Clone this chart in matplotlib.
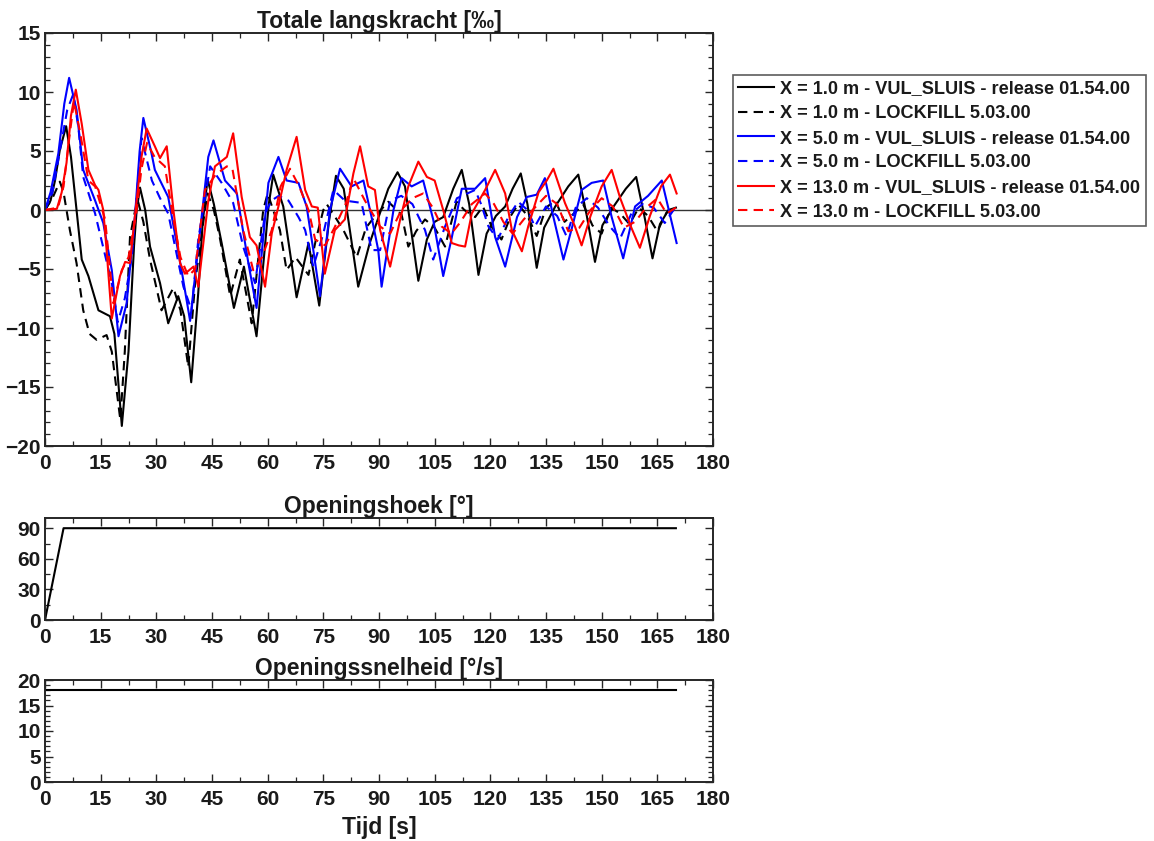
import matplotlib
matplotlib.use("Agg")
import matplotlib.pyplot as plt
from matplotlib.ticker import MultipleLocator

plt.rcParams['font.family'] = ['Liberation Sans', 'DejaVu Sans']
plt.rcParams['font.weight'] = 'bold'

# ---------------- data ----------------
t_k1 = [0, 1.5, 2.7, 4.0, 5.7, 7.0, 8.5, 9.9, 11.7, 14.4, 17.5, 18.7, 20.7, 22.5, 24.0, 24.7, 25.6, 27, 28.3,
        31.0, 33.2, 35.9, 37.5, 39.4, 41.3, 42.5, 43.8, 45.5, 47.6, 50.9, 53.6, 57.0, 59.0, 60.3, 61.5, 64.2,
        67.8, 71.0, 73.9, 76.5, 78.4, 80.5, 84.4, 87.5, 90.0, 92.5, 95.0, 97.0, 100.6, 102.9, 105.0, 107.3,
        110.0, 112.3, 114.3, 116.8, 119.0, 121.5, 124.0, 126.0, 128.2, 130.0, 132.5, 134.5, 137.5, 141.0,
        143.7, 146.0, 148.2, 150.2, 153.0, 156.5, 159.3, 161.5, 163.7, 165.7, 168.0, 170.0]
v_k1 = [0, 0.8, 2.5, 5.1, 7.1, 4.5, 0, -4.2, -5.6, -8.5, -9.0, -10.5, -18.3, -12, -3, 0, 1.9, 0, -3.1,
        -6.2, -9.6, -7.3, -9, -14.6, -7, -1, 2.6, 0.5, -2.8, -8.3, -4.8, -10.7, -4, 0.5, 3.0, 0.3,
        -7.4, -2.8, -8.1, -1, 2.9, 1.8, -6.5, -2.8, -0.5, 1.8, 3.2, 2.0, -6.0, -2.5, -1.0, -0.6,
        1.8, 3.4, 0.5, -5.5, -2.0, -0.5, 0.3, 1.8, 3.1, 0.5, -4.9, -1.5, 0.3, 2.0,
        3.0, -0.5, -4.4, -1.3, 0.2, 1.8, 2.8, -0.5, -4.1, -1.2, 0.0, 0.2]

t_k2 = [0, 2.0, 4.0, 5.0, 6.7, 8.5, 10.3, 12.0, 13.9, 16.6, 18.0, 20.3, 21.5, 22.9, 24.3, 25.0, 26.5, 28.3,
        31.4, 34.6, 36.5, 38.6, 40.5, 43.1, 43.8, 45.5, 47.2, 49.9, 52.5, 55.7, 57.5, 58.8, 60.0, 63.3, 65.1,
        67.5, 71.0, 73.0, 75.0, 75.9, 78.0, 80.4, 84.0, 86.5, 89.0, 92.5, 96.1, 97.9, 100.0, 102.4, 105.0,
        107.8, 110.9, 113.0, 115.9, 118.0, 120.5, 123.0, 125.5, 127.5, 130, 132.5, 135, 137.5, 140, 142.5,
        145, 147.5, 150, 152.5, 155, 157.5, 160, 162.5, 165, 167.5, 170]
v_k2 = [0, 1.0, 2.4, 1.5, -1.7, -4.5, -8.5, -10.5, -11.0, -10.6, -12, -17.8, -12, -2.3, 0, 0.8, -1, -4.2,
        -8.5, -6.6, -8.5, -13.3, -6, 0, 1.4, 0, -2.5, -7.3, -4.2, -9.6, -4, 0, 1.4, -1.7, -5.1,
        -4.0, -5.5, -2.5, 0, 0.5, -0.5, -1.7, -4.0, -1.5, -0.5, 0.7, -0.4, -3.1, -1.8, -0.8, -1.5,
        -3.1, 0.7, 0.0, -0.6, 0.3, -1.5, -2.5, -0.5, 0.5, -0.5, -2.2, 0.2, 0.8, -1.0, -0.3,
        0.5, -1.3, -2.0, 0.2, -0.3, -1.2, 0.2, -0.5, -1.8, -0.2, 0.0]

t_b1 = [0, 1.5, 3.6, 5.2, 6.5, 8.5, 10.3, 13.5, 15.7, 18.0, 19.8, 22.0, 24.3, 25.5, 26.5, 28.7, 29.6, 33.2,
        36.8, 39.1, 42.2, 44.0, 45.4, 48.5, 51.7, 54.8, 57.0, 60.2, 62.9, 65.1, 68.3, 70.5, 72.3, 74.1,
        76.8, 79.5, 82.6, 85.8, 88.0, 89.8, 90.7, 93.9, 96.1, 98.8, 101.9, 104.6, 107.3, 109.5, 112.3,
        115.9, 118.6, 121.3, 124.0, 127.2, 129.8, 132.5, 134.7, 137.0, 139.7, 142.0, 144.6, 147.3, 150.4,
        152.7, 155.8, 159.0, 162.5, 166.2, 170.2]
v_b1 = [0, 1.5, 4.8, 9, 11.2, 8.5, 3.4, 0.8, -1.1, -5.1, -10.7, -7.9, -0.3, 5, 7.8, 4.8, 3.4, 1.1,
        -5.1, -9.4, -0.6, 4.5, 5.9, 2.5, 1.4, -4.5, -8.3, 2.3, 4.5, 2.5, 2.3, 0.3, -3.4, -7.3,
        0, 3.5, 2.0, 2.5, -0.6, -3.4, -6.5, 0, 2.7, 2.0, 2.5, -0.8, -5.6, -2.5, 1.8,
        1.8, 2.7, -2.3, -4.8, -0.6, 1.1, 1.3, 2.7, -0.6, -4.2, -1.5, 1.7, 2.3, 2.5,
        -0.6, -4.1, 0.3, 1.2, 2.5, -2.8]

t_b2 = [0, 2, 4, 6, 7.6, 9, 10.3, 13.5, 18.0, 19.6, 21.5, 23.4, 24.8, 26.0, 28.8, 31.0, 33.2, 37.3, 39.5,
        41.3, 44.5, 47.6, 50.7, 53.4, 56.6, 59.3, 61.0, 63.0, 65.6, 68.3, 70.1, 72.3, 75.0, 77.7, 80.8,
        85.3, 88.0, 90.3, 93.0, 96, 99, 102.4, 104.6, 107.8, 111, 115.9, 117.5, 119.5, 122, 125, 127.5,
        130, 132, 135, 138, 140.5, 143, 146, 149, 152.2, 155, 158, 161, 164, 167, 170]
v_b2 = [0, 1.5, 5, 8.5, 9.8, 7, 2.8, -0.3, -6.2, -9.5, -7.5, -4, 1.5, 6.1, 2.5, 1.0, -0.3, -6.5, -8.5,
        -2.5, 3.7, 2.3, 0.6, -3.1, -6.2, -0.3, 0.8, 1.2, 0.8, -0.6, -1.7, -4.8, -2.0, 1.7, 0.8,
        0.6, -3.4, -3.4, 0.8, 1.2, 0.5, -1.7, -4.2, -1.4, 1.0, 1.7, 0.5, -1.4, -2.5, -0.5, 0.7,
        0.0, -1.4, 0.3, -0.5, -2.2, 0.2, 1.0, 0.2, -1.4, -2.4, -0.3, 0.5, 0.2, -1.1, 0.3]

t_r1 = [0, 3.2, 4.5, 5.8, 7.0, 8.3, 9.9, 11.7, 13.5, 14.4, 15.7, 16.6, 18.0, 20.2, 21.6, 22.9, 24.3, 26.0,
        27.4, 29.6, 31.0, 32.8, 34.6, 36.4, 37.7, 40.0, 41.3, 44.0, 45.8, 49.0, 50.7, 53.0, 55.2, 57,
        59.3, 61.1, 62.9, 65.1, 67.8, 70.1, 71.9, 73.5, 75.4, 78.1, 80.8, 83.1, 84.9, 87.1, 88.9, 90.3,
        93.0, 95.7, 97.9, 100.6, 102.9, 105, 107.3, 109.6, 111.5, 113.2, 115.0, 118.6, 121.3, 124.0,
        125.8, 128.5, 130.2, 133, 135.2, 137.0, 140.1, 142.8, 144.6, 147, 150, 152.7, 155, 158, 160.3,
        163, 166, 168.4, 170.2]
v_r1 = [0, 0.1, 1.5, 4, 8, 10.2, 7.3, 3.4, 2.1, 1.7, 0, -3.4, -9.2, -5.6, -4.4, -4.5, -0.3, 4.5,
        6.9, 5.4, 4.4, 5.4, 0, -4.5, -5.4, -4.8, -6.5, 0.8, 3.7, 4.5, 6.5, 1.1, -2.3, -3,
        -6.5, -2.0, 0.3, 3.4, 6.2, 1.7, 0.3, 0.2, -5.4, -1.7, -0.8, 3.1, 5.4, 2.0, 1.7, -1.7,
        -4.8, -0.8, 2.0, 4.1, 2.8, 2.5, 0, -2.8, -3.0, -3.1, -0.3, 1.7, 3.4, 1.4,
        -1.7, -3.5, -1.4, 1.5, 2.5, 3.5, 0.6, -1.4, -3.0, -0.5, 2.0, 3.4, 1.0, -1.5, -3.2,
        -0.5, 2.0, 3.0, 1.4]

t_r2 = [0, 3.5, 5, 6.5, 7.8, 9.5, 11.7, 13.5, 16.2, 18.4, 20.7, 22.5, 24.5, 26, 27.5, 29.5, 32.3, 34.6,
        36.5, 38.6, 40.5, 43.1, 46, 49.0, 50.5, 52.1, 53.4, 56.1, 58.5, 61.1, 63.5, 66.0, 68.5, 71.0,
        72.8, 75.5, 78, 81, 83.1, 86.2, 90.3, 93, 96, 99, 101.9, 104.5, 106.9, 109.5, 112, 115, 118.6,
        121, 123.5, 126, 129, 132, 135, 138, 141, 144, 147, 150, 153, 156, 159, 162, 165, 167.5, 170]
v_r2 = [0, 0.2, 2, 6, 9.2, 6.5, 2.5, 2.0, -0.8, -7.9, -5.1, -4.0, -0.5, 3.5, 5.7, 4.5, 3.7, -0.8,
        -4, -5.6, -5.0, 1.7, 3.0, 3.7, 3.5, 0.6, -1.7, -5.1, -4.0, -1.7, 2.0, 3.5, 2.0, 0.0,
        -2.5, -3.0, -1.5, 0.5, 2.7, 0.8, -1.4, -2.0, 0, 1.0, 1.4, 0.2, -1.4, -2.0, -1.0, 0.5, 1.4,
        0.5, -1.0, -2.0, -0.8, 0.2, 1.2, 0.5, -1.8, -1.5, 0.0, 1.0, 0.3, -1.5, -1.0, 0.2, 1.0, -0.3, 0.2]

t_hoek = [0, 5, 170]
v_hoek = [0, 90, 90]
t_snel = [0, 170]
v_snel = [18, 18]

labels = ['X = 1.0 m - VUL_SLUIS - release 01.54.00',
          'X = 1.0 m - LOCKFILL 5.03.00',
          'X = 5.0 m - VUL_SLUIS - release 01.54.00',
          'X = 5.0 m - LOCKFILL 5.03.00',
          'X = 13.0 m - VUL_SLUIS - release 01.54.00',
          'X = 13.0 m - LOCKFILL 5.03.00']

# ---------------- figure ----------------
W, H = 1154, 841
fig = plt.figure(figsize=(W / 100, H / 100), dpi=100)

def ax_px(left, top, right, bottom):
    return fig.add_axes([left / W, 1 - bottom / H, (right - left) / W, (bottom - top) / H])

ax1 = ax_px(45, 33, 713, 446)
ax2 = ax_px(45, 518, 713, 620)
ax3 = ax_px(45, 680, 713, 782)

spine_c = '#262626'
text_c = '#1a1a1a'
dash = (0, (4.5, 3))
lw = 1.5
TICK_FS = 15
TITLE_FS = 16.5

def style(ax, ymaj, ymin):
    ax.set_xlim(0, 180)
    ax.xaxis.set_major_locator(MultipleLocator(15))
    ax.xaxis.set_minor_locator(MultipleLocator(7.5))
    ax.yaxis.set_major_locator(MultipleLocator(ymaj))
    ax.yaxis.set_minor_locator(MultipleLocator(ymin))
    ax.tick_params(which='both', direction='in', top=True, right=True, colors=spine_c,
                   labelcolor=text_c, labelsize=TICK_FS)
    ax.tick_params(which='major', length=6, width=1.0)
    ax.tick_params(which='minor', length=3.5, width=0.9)
    ax.tick_params(axis='x', which='major', pad=6)
    ax.tick_params(axis='y', which='major', pad=3)
    for s in ax.spines.values():
        s.set_linewidth(1.4)
        s.set_color(spine_c)
    for lab in ax.get_xticklabels() + ax.get_yticklabels():
        lab.set_fontweight('bold')

# main axes
series = [(t_k1, v_k1, 'black', '-'), (t_k2, v_k2, 'black', dash),
          (t_b1, v_b1, 'blue', '-'), (t_b2, v_b2, 'blue', dash),
          (t_r1, v_r1, 'red', '-'), (t_r2, v_r2, 'red', dash)]
handles = []
for (tt, vv, c, ls), lab in zip(series, labels):
    h, = ax1.plot(tt, vv, color=c, linestyle=ls, lw=lw, label=lab)
    handles.append(h)
ax1.axhline(0, color='#333333', lw=1.0, zorder=0)
ax1.set_ylim(-20, 15)
style(ax1, 5, 1)
ax1.set_title('Totale langskracht [‰]', fontsize=TITLE_FS, fontweight='bold', pad=2, color=text_c)

leg = fig.legend(handles=handles, loc='upper left', bbox_to_anchor=(733 / W, 1 - 75 / H),
                 fontsize=13.1, frameon=True, fancybox=False, handlelength=1.95,
                 borderpad=0.3, labelspacing=0.42, handletextpad=0.35, borderaxespad=0)
leg.get_frame().set_edgecolor('#333333')
leg.get_frame().set_linewidth(1.2)
for txt in leg.get_texts():
    txt.set_fontweight('bold')
    txt.set_color(text_c)

# opening angle
ax2.plot(t_hoek, v_hoek, color='black', lw=lw)
ax2.set_ylim(0, 100)
style(ax2, 30, 15)
ax2.set_yticks([0, 30, 60, 90])
ax2.set_title('Openingshoek [°]', fontsize=TITLE_FS, fontweight='bold', pad=2, color=text_c)

# opening speed
ax3.plot(t_snel, v_snel, color='black', lw=lw)
ax3.set_ylim(0, 20)
style(ax3, 5, 1)
ax3.set_title('Openingssnelheid [°/s]', fontsize=TITLE_FS, fontweight='bold', pad=2, color=text_c)
ax3.set_xlabel('Tijd [s]', fontsize=TITLE_FS, fontweight='bold', labelpad=5, color=text_c)

fig.savefig('out.png', dpi=100)
